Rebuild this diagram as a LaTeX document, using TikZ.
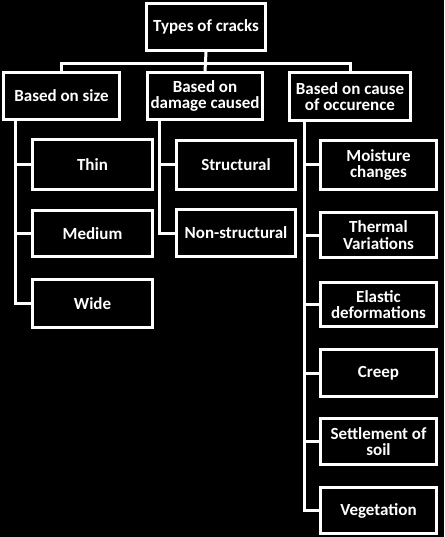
\documentclass[tikz,border=0pt]{standalone}
\usepackage{fontspec}
\setmainfont{Carlito}
\begin{document}
\begin{tikzpicture}[x=1pt,y=-1pt,
  cbox/.style={draw=white, line width=3pt, fill=black, text=white, rectangle,
    inner sep=0pt, align=center, font=\bfseries\fontsize{17}{16.5}\selectfont},
  conn/.style={draw=white, line width=3pt, line join=miter}]
\fill[black] (0,0) rectangle (444,537);
\useasboundingbox (0,0) rectangle (444,537);
\newcommand\cbox[6]{\node[cbox, minimum width={(#4-#2-3)*1pt}, minimum height={(#5-#3-3)*1pt}]
  (#1) at ({(#2+#4)/2},{(#3+#5)/2}) {#6};}
\cbox{root}{145}{2}{267}{52}{Types of cracks}
\cbox{size}{2}{71}{121}{121}{Based on size}
\cbox{damage}{146}{71}{264}{121}{Based on\\damage caused}
\cbox{cause}{288}{71}{412}{122}{Based on cause\\of occurence}
\cbox{thin}{31}{138}{154}{191}{Thin}
\cbox{medium}{31}{209}{154}{258}{Medium}
\cbox{wide}{31}{278}{154}{329}{Wide}
\cbox{struct}{175}{139}{297}{191}{Structural}
\cbox{nonstruct}{175}{208}{297}{258}{Non-structural}
\cbox{moist}{319}{139}{438}{191}{Moisture\\changes}
\cbox{therm}{319}{211}{438}{259}{Thermal\\Variations}
\cbox{elast}{319}{281}{438}{328}{Elastic\\deformations}
\cbox{creep}{319}{348}{438}{398}{Creep}
\cbox{settle}{319}{417}{438}{466}{Settlement of\\soil}
\cbox{veg}{319}{486}{438}{535}{Vegetation}
\coordinate (bar) at (0,63.5);
\coordinate (sx) at (15.5,0);
\coordinate (dx) at (159.5,0);
\coordinate (cx) at (304,0);
\draw[conn] (root.south) -- (damage.north);
\draw[conn] (size.north) -- (size.north |- bar) -- (cause.north |- bar) -- (cause.north);
\draw[conn] (sx |- size.south) |- (wide.west);
\draw[conn] (sx |- thin.west) -- (thin.west);
\draw[conn] (sx |- medium.west) -- (medium.west);
\draw[conn] (dx |- damage.south) |- (nonstruct.west);
\draw[conn] (dx |- struct.west) -- (struct.west);
\draw[conn] (cx |- cause.south) |- (veg.west);
\draw[conn] (cx |- moist.west) -- (moist.west);
\draw[conn] (cx |- therm.west) -- (therm.west);
\draw[conn] (cx |- elast.west) -- (elast.west);
\draw[conn] (cx |- creep.west) -- (creep.west);
\draw[conn] (cx |- settle.west) -- (settle.west);
\end{tikzpicture}
\end{document}
